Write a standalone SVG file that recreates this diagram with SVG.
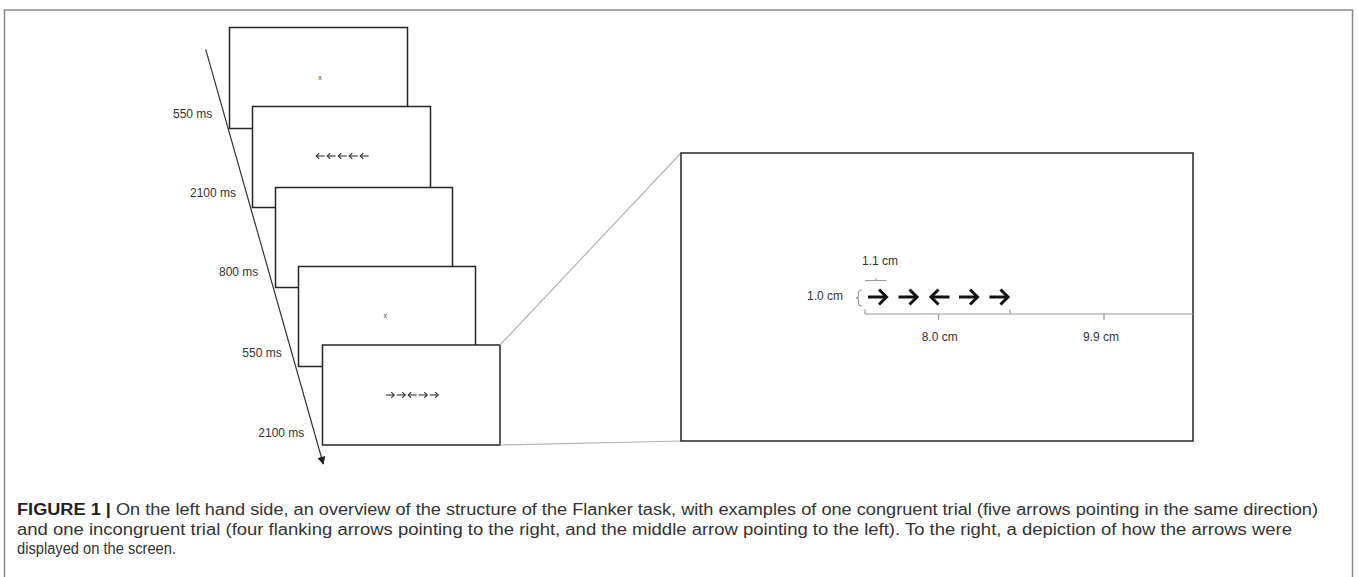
<svg xmlns="http://www.w3.org/2000/svg" width="1358" height="577" viewBox="0 0 1358 577">
  <style>
    .frame { fill: none; stroke: #8a8a8a; stroke-width: 1.5; }
    .screen { fill: #ffffff; stroke: #262626; stroke-width: 1.5; }
    .lbl { font-family: "Liberation Sans", Arial, sans-serif; font-size: 12px; fill: #333333; }
    .fix { font-family: "Liberation Sans", Arial, sans-serif; font-size: 7px; fill: #444444; text-anchor: middle; }
    .zoomline { stroke: #b4b4b4; stroke-width: 1.2; fill: none; }
    .measure { stroke: #9a9a9a; stroke-width: 1.2; fill: none; }
    .bigarrow { stroke: #111111; stroke-width: 3; fill: none; stroke-linejoin: miter; }
    .smallarrow { stroke: #333333; stroke-width: 1.1; fill: none; }
    .cap { font-family: "Liberation Sans", Arial, sans-serif; font-size: 16px; fill: #333333; }
    .capb { font-weight: bold; fill: #222222; }
  </style>
  <defs>
    <marker id="timehead" viewBox="0 0 10 10" refX="9" refY="5" markerWidth="9" markerHeight="8" orient="auto" markerUnits="userSpaceOnUse">
      <path d="M0,0 L10,5 L0,10 Z" fill="#222222"/>
    </marker>
    <!-- large stimulus arrow pointing right, origin at the shaft's left end -->
    <g id="bigR" class="bigarrow">
      <path d="M0,0 H18.5"/>
      <path d="M11,-7.5 L18.5,0 L11,7.5"/>
    </g>
    <!-- small stimulus arrow pointing right -->
    <g id="smallR" class="smallarrow">
      <path d="M0,0 H8.5"/>
      <path d="M5.5,-2.8 L8.5,0 L5.5,2.8"/>
    </g>
  </defs>

  <!-- outer figure frame -->
  <rect class="frame" x="4.5" y="10" width="1348" height="600"/>

  <!-- timeline arrow and durations -->
  <g id="timeline">
    <line x1="205.7" y1="49.3" x2="323.3" y2="464" stroke="#333333" stroke-width="1.2" marker-end="url(#timehead)"/>
    <text class="lbl" x="173" y="117.5">550 ms</text>
    <text class="lbl" x="190" y="197">2100 ms</text>
    <text class="lbl" x="219" y="276">800 ms</text>
    <text class="lbl" x="242.3" y="357">550 ms</text>
    <text class="lbl" x="258.3" y="436.5">2100 ms</text>
  </g>

  <!-- stacked trial screens -->
  <g id="screen1">
    <rect class="screen" x="229.5" y="27.5" width="178" height="101"/>
    <text class="fix" x="320" y="79.5">x</text>
  </g>
  <g id="screen2">
    <rect class="screen" x="252.5" y="106.5" width="178" height="101"/>
    <use href="#smallR" transform="translate(324.7,156) scale(-1,1)"/>
    <use href="#smallR" transform="translate(335.7,156) scale(-1,1)"/>
    <use href="#smallR" transform="translate(346.7,156) scale(-1,1)"/>
    <use href="#smallR" transform="translate(357.7,156) scale(-1,1)"/>
    <use href="#smallR" transform="translate(368.7,156) scale(-1,1)"/>
  </g>
  <g id="screen3">
    <rect class="screen" x="275.5" y="187.5" width="177" height="100"/>
  </g>
  <g id="screen4">
    <rect class="screen" x="298.5" y="266.5" width="177" height="100"/>
    <text class="fix" x="385.3" y="317.5">x</text>
  </g>
  <g id="screen5">
    <rect class="screen" x="322.5" y="345" width="177.5" height="100"/>
    <use href="#smallR" transform="translate(385.7,395)"/>
    <use href="#smallR" transform="translate(396.7,395)"/>
    <use href="#smallR" transform="translate(416.7,395) scale(-1,1)"/>
    <use href="#smallR" transform="translate(418.7,395)"/>
    <use href="#smallR" transform="translate(429.7,395)"/>
  </g>

  <!-- enlargement lines from the last screen to the detail view -->
  <g id="connectors">
    <line class="zoomline" x1="500" y1="345" x2="681" y2="153"/>
    <line class="zoomline" x1="500" y1="445" x2="681" y2="441"/>
  </g>

  <!-- enlarged screen with stimulus dimensions -->
  <g id="detail">
    <rect class="screen" x="681" y="153" width="512" height="288"/>

    <text class="lbl" x="862" y="265">1.1 cm</text>
    <path class="measure" d="M865,280.5 H886.5 M876,278.3 V280.5" stroke-width="1"/>

    <text class="lbl" x="807" y="300">1.0 cm</text>
    <path class="measure" d="M862,290 Q858.5,290 858.5,293 V295.5 Q858.5,297.8 856,297.8 Q858.5,297.8 858.5,300 V303 Q858.5,306 862,306" stroke-width="1"/>

    <use href="#bigR" transform="translate(868,297)"/>
    <use href="#bigR" transform="translate(898.5,297)"/>
    <use href="#bigR" transform="translate(949.5,297) scale(-1,1)"/>
    <use href="#bigR" transform="translate(959,297)"/>
    <use href="#bigR" transform="translate(989.5,297)"/>

    <path class="measure" d="M865,314 H1193 M865,309.3 V314 M1010,309.3 V314 M938.5,314 V320 M1104,314 V320"/>
    <text class="lbl" x="921.7" y="341">8.0 cm</text>
    <text class="lbl" x="1083" y="341">9.9 cm</text>
  </g>

  <!-- caption -->
  <g id="caption">
    <text class="cap" x="17" y="514.5" textLength="1301" lengthAdjust="spacingAndGlyphs"><tspan class="capb">FIGURE 1 |</tspan> On the left hand side, an overview of the structure of the Flanker task, with examples of one congruent trial (five arrows pointing in the same direction)</text>
    <text class="cap" x="17" y="534.5" textLength="1275" lengthAdjust="spacingAndGlyphs">and one incongruent trial (four flanking arrows pointing to the right, and the middle arrow pointing to the left). To the right, a depiction of how the arrows were</text>
    <text class="cap" x="17" y="554" textLength="159" lengthAdjust="spacingAndGlyphs">displayed on the screen.</text>
  </g>
</svg>
